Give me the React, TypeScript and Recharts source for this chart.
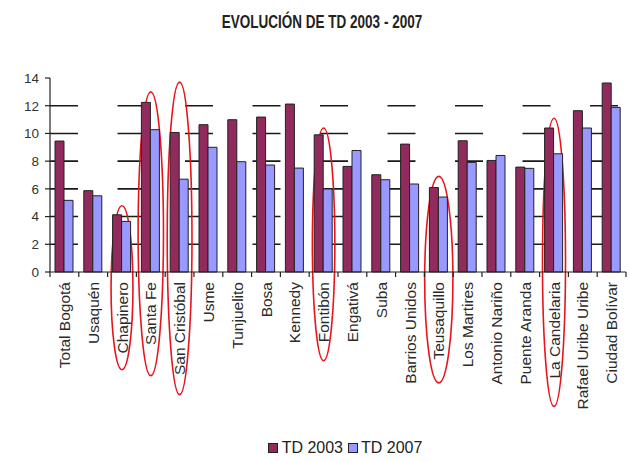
import React from "react";
import {
  BarChart,
  Bar,
  XAxis,
  YAxis,
  CartesianGrid,
  Legend,
  ReferenceArea,
} from "recharts";

const categories = [
  "Total Bogotá",
  "Usaquén",
  "Chapinero",
  "Santa Fe",
  "San Cristóbal",
  "Usme",
  "Tunjuelito",
  "Bosa",
  "Kennedy",
  "Fontibón",
  "Engativá",
  "Suba",
  "Barrios Unidos",
  "Teusaquillo",
  "Los Martires",
  "Antonio Nariño",
  "Puente Aranda",
  "La Candelaria",
  "Rafael Uribe Uribe",
  "Ciudad Bolívar",
];

const td2003 = [9.45, 5.87, 4.13, 12.24, 10.07, 10.63, 10.99, 11.18, 12.12, 9.9, 7.62, 7.02, 9.23, 6.1, 9.47, 8.05, 7.57, 10.39, 11.64, 13.64];
const td2007 = [5.17, 5.5, 3.65, 10.27, 6.7, 9.0, 7.96, 7.72, 7.5, 5.99, 8.77, 6.66, 6.35, 5.41, 7.91, 8.41, 7.48, 8.53, 10.39, 11.88];

const yTicks = [0, 2, 4, 6, 8, 10, 12, 14];
const gridValues = [2, 4, 6, 8, 10, 12];

// hand-drawn red ellipse annotations (category, top value, bottom value, width ratio)
const noteCategories = ["Chapinero", "Santa Fe", "San Cristóbal", "Fontibón", "Teusaquillo", "La Candelaria"];
const noteTops = [4.78, 13.0, 13.7, 10.39, 6.9, 11.1];
const noteBottoms = [-7.05, -7.48, -8.85, -6.4, -8.0, -9.7];
const noteWidths = [0.76, 0.88, 0.86, 0.78, 0.98, 0.8];

const data = categories.map((name, i) => ({
  name,
  td2003: td2003[i],
  td2007: td2007[i],
}));

const FONT = "'Liberation Sans', Arial, sans-serif";
const C2003 = "#912B5E";
const C2007 = "#9999FF";

const XTick = (props: any) => {
  const { x, y, payload, index } = props;
  const half = payload && payload.offset ? payload.offset : 14.4;
  const isLast = index === categories.length - 1;
  return (
    <g>
      <line x1={x - half} x2={x - half} y1={y} y2={y + 5} stroke="#222" strokeWidth={1.2} />
      {isLast && <line x1={x + half} x2={x + half} y1={y} y2={y + 5} stroke="#222" strokeWidth={1.2} />}
      <text
        x={0}
        y={0}
        transform={`translate(${x},${y + 10}) rotate(-90)`}
        textAnchor="end"
        dy="0.36em"
        fontSize={15.5}
        fill="#2a2a2a"
        fontFamily={FONT}
      >
        {payload.value}
      </text>
    </g>
  );
};

const LegendContent = () => (
  <div
    style={{
      display: "flex",
      justifyContent: "center",
      alignItems: "center",
      height: 24,
      fontFamily: FONT,
      fontSize: 16,
      color: "#222",
      paddingLeft: 64,
    }}
  >
    <span style={{ display: "inline-block", width: 8, height: 8, background: C2003, border: "1px solid #222", marginRight: 4 }} />
    <span style={{ marginRight: 5 }}>TD 2003</span>
    <span style={{ display: "inline-block", width: 8, height: 8, background: C2007, border: "1px solid #222", marginRight: 3 }} />
    <span>TD 2007</span>
  </div>
);

export default function App() {
  return (
    <div style={{ position: "fixed", left: 0, top: 0, width: 629, height: 461, background: "#fff" }}>
      <div
        style={{
          position: "absolute",
          left: 0,
          top: 12,
          width: 644,
          textAlign: "center",
          fontFamily: FONT,
          fontWeight: "bold",
          fontSize: 18,
          color: "#222",
          lineHeight: "20px",
          transform: "scaleX(0.75)",
          transformOrigin: "322px 0",
        }}
      >
        EVOLUCIÓN DE TD 2003 - 2007
      </div>
      <BarChart
        width={629}
        height={461}
        data={data}
        margin={{ top: 78, right: 3, bottom: 1, left: 0 }}
        barCategoryGap={5}
        barGap={0}
      >
        <CartesianGrid
          vertical={false}
          horizontalValues={gridValues}
          stroke="#1a1a1a"
          strokeWidth={1.6}
          strokeDasharray="28 39.5"
        />
        <XAxis
          dataKey="name"
          interval={0}
          tickLine={false}
          tickSize={0}
          tickMargin={0}
          height={164}
          axisLine={{ stroke: "#222", strokeWidth: 1.2 }}
          tick={<XTick />}
        />
        <YAxis
          domain={[0, 14]}
          ticks={yTicks}
          width={50}
          tickSize={5}
          tickMargin={6}
          axisLine={{ stroke: "#222", strokeWidth: 1.2 }}
          tickLine={{ stroke: "#222", strokeWidth: 1.2 }}
          tick={{ fontSize: 13.5, fill: "#333", fontFamily: FONT }}
        />
        <Legend verticalAlign="bottom" content={<LegendContent />} />
        <Bar dataKey="td2003" name="TD 2003" fill={C2003} stroke="#222" strokeWidth={1} isAnimationActive={false} />
        <Bar dataKey="td2007" name="TD 2007" fill={C2007} stroke="#222" strokeWidth={1} isAnimationActive={false} />
        {noteCategories.map((c, i) => (
          <ReferenceArea
            key={c}
            x1={c}
            x2={c}
            y1={noteBottoms[i]}
            y2={noteTops[i]}
            ifOverflow="visible"
            shape={(p: any) => (
              <ellipse
                cx={p.x + p.width / 2}
                cy={p.y + p.height / 2}
                rx={(p.width * noteWidths[i]) / 2}
                ry={Math.abs(p.height) / 2}
                fill="none"
                stroke="#e8141b"
                strokeWidth={1.6}
              />
            )}
          />
        ))}
      </BarChart>
    </div>
  );
}
